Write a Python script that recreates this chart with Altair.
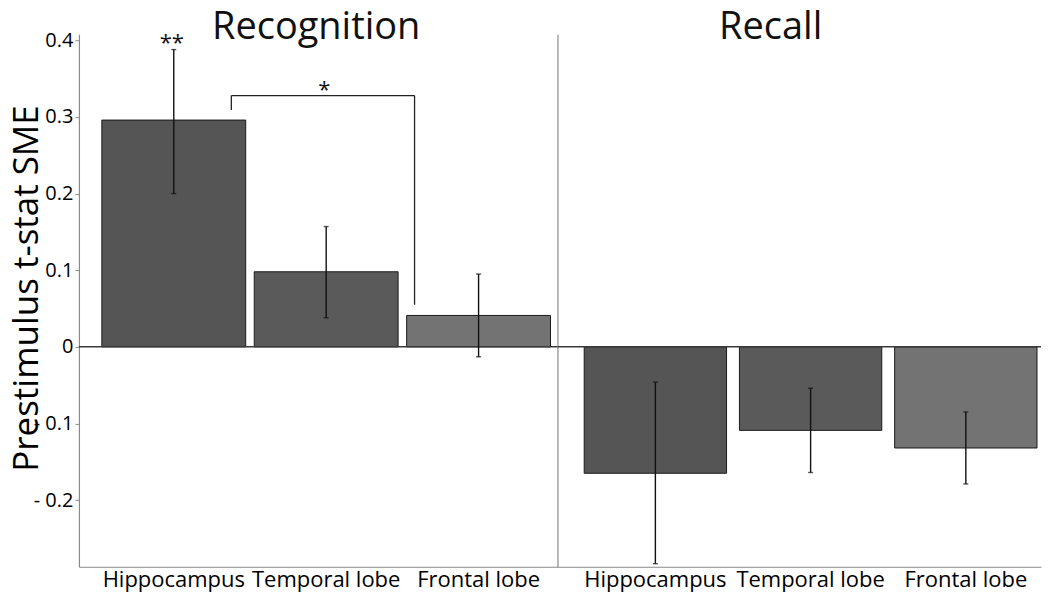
import altair as alt
import pandas as pd

regions = ["Hippocampus", "Temporal lobe", "Frontal lobe"]
bar_colors = ["#555555", "#5a5a5a", "#737373"]

recog_mean = [0.296, 0.098, 0.041]
recog_lo = [0.200, 0.038, -0.013]
recog_hi = [0.388, 0.157, 0.095]

recall_mean = [-0.165, -0.109, -0.132]
recall_lo = [-0.283, -0.164, -0.179]
recall_hi = [-0.046, -0.054, -0.085]

y_ticks = [-0.2, -0.1, 0, 0.1, 0.2, 0.3, 0.4]
y_domain = [-0.287, 0.408]

panel_titles = ["Recognition", "Recall"]

# significance annotations
bracket_from = ["Hippocampus"]
bracket_to = ["Frontal lobe"]
bracket_top = [0.328]
bracket_left_end = [0.309]
bracket_right_end = [0.055]
star_labels = ["**", "*"]
star_regions = ["Hippocampus", "Temporal lobe"]
star_y = [0.388, 0.326]

FONT = "Open Sans"
AXIS_GRAY = "#8a8a8a"
PLOT_H = 533

yscale = alt.Scale(domain=y_domain, nice=False, zero=False)
cscale = alt.Scale(domain=regions, range=bar_colors)


def panel(title, means, los, his, left, width, pin, pout, align, title_dx):
    df = pd.DataFrame({"region": regions, "mean": means, "lo": los, "hi": his})
    xscale = alt.Scale(domain=regions, paddingInner=pin, paddingOuter=pout, align=align)
    xaxis = alt.Axis(title=None, labelAngle=0, ticks=False, domainColor=AXIS_GRAY,
                     domainWidth=1.2, labelFont=FONT, labelFontSize=22,
                     labelColor="black", labelPadding=3, labelLimit=300)
    if left:
        yaxis = alt.Axis(values=y_ticks,
                         labelExpr="datum.value == 0 ? '0' : (datum.value < 0 ? '- ' + format(-datum.value, '.1f') : format(datum.value, '.1f'))",
                         title="Prestimulus t-stat SME", titleFont=FONT, titleFontSize=35,
                         titleFontWeight="normal", titleColor="black",
                         titleBaseline="alphabetic", titleX=-41, titleY=254,
                         labelFont=FONT, labelFontSize=20, labelColor="black",
                         tickSize=4, tickColor=AXIS_GRAY, domainColor=AXIS_GRAY,
                         domainWidth=1.2, grid=False, labelPadding=2)
    else:
        yaxis = alt.Axis(values=y_ticks, title=None, labels=False, ticks=False,
                         domainColor=AXIS_GRAY, domainWidth=1.2, grid=False)
    x = alt.X("region:N", sort=regions, scale=xscale, axis=xaxis)
    base = alt.Chart(df)
    bars = base.mark_bar(stroke="#1a1a1a", strokeWidth=1).encode(
        x=x,
        y=alt.Y("mean:Q", scale=yscale, axis=yaxis),
        color=alt.Color("region:N", scale=cscale, legend=None),
    )
    zero = alt.Chart(pd.DataFrame({"z": [0]})).mark_rule(color="#3a3a3a", strokeWidth=1.5).encode(
        y=alt.Y("z:Q", scale=yscale)
    )
    err = base.mark_rule(color="#111111", strokeWidth=1.4).encode(
        x=x, y=alt.Y("lo:Q", scale=yscale), y2="hi:Q"
    )
    cap_lo = base.mark_tick(color="#111111", size=5, thickness=1.4).encode(
        x=x, y=alt.Y("lo:Q", scale=yscale)
    )
    cap_hi = base.mark_tick(color="#111111", size=5, thickness=1.4).encode(
        x=x, y=alt.Y("hi:Q", scale=yscale)
    )
    tdf = pd.DataFrame({"t": [title], "region": [regions[1]], "y": [y_domain[1]]})
    title_mark = alt.Chart(tdf).mark_text(font=FONT, fontSize=38, baseline="alphabetic",
                                          color="#111111", dy=5, dx=title_dx).encode(
        x=alt.X("region:N", sort=regions, scale=xscale, axis=xaxis),
        y=alt.Y("y:Q", scale=yscale),
        text="t:N",
    )
    layers = [bars, zero, err, cap_lo, cap_hi, title_mark]
    if left:
        bdf = pd.DataFrame({"a": bracket_from, "b": bracket_to, "top": bracket_top,
                            "le": bracket_left_end, "re": bracket_right_end})
        bb = alt.Chart(bdf)
        hline = bb.mark_rule(color="#222222", strokeWidth=1.3).encode(
            x=alt.X("a:N", sort=regions, scale=xscale, axis=xaxis, bandPosition=0.9),
            x2=alt.X2("b:N", bandPosition=0.055),
            y=alt.Y("top:Q", scale=yscale),
        )
        lleg = bb.mark_rule(color="#222222", strokeWidth=1.3).encode(
            x=alt.X("a:N", sort=regions, scale=xscale, axis=xaxis, bandPosition=0.9),
            y=alt.Y("le:Q", scale=yscale), y2="top:Q",
        )
        rleg = bb.mark_rule(color="#222222", strokeWidth=1.3).encode(
            x=alt.X("b:N", sort=regions, scale=xscale, axis=xaxis, bandPosition=0.055),
            y=alt.Y("re:Q", scale=yscale), y2="top:Q",
        )
        sdf = pd.DataFrame({"label": star_labels, "region": star_regions, "y": star_y})
        stars = alt.Chart(sdf).mark_text(font=FONT, fontSize=22, baseline="alphabetic",
                                         color="#111111", dx=-2).encode(
            x=alt.X("region:N", sort=regions, scale=xscale, axis=xaxis),
            y=alt.Y("y:Q", scale=yscale),
            text="label:N",
        )
        layers += [hline, lleg, rleg, stars]
    return alt.layer(*layers).properties(width=width, height=PLOT_H)


left_panel = panel(panel_titles[0], recog_mean, recog_lo, recog_hi, True, 479,
                   0.056, 0.098, 0.767, -10)
right_panel = panel(panel_titles[1], recall_mean, recall_lo, recall_hi, False, 484,
                    0.083, 0.099, 0.87, -40)

chart = alt.hconcat(left_panel, right_panel, spacing=0, bounds="flush").resolve_scale(
    x="independent"
).properties(
    padding={"left": 2, "top": 1, "right": 0, "bottom": 2}
).configure_view(stroke=None)

chart.save("out.html", embed_options={"renderer": "svg", "actions": False})
